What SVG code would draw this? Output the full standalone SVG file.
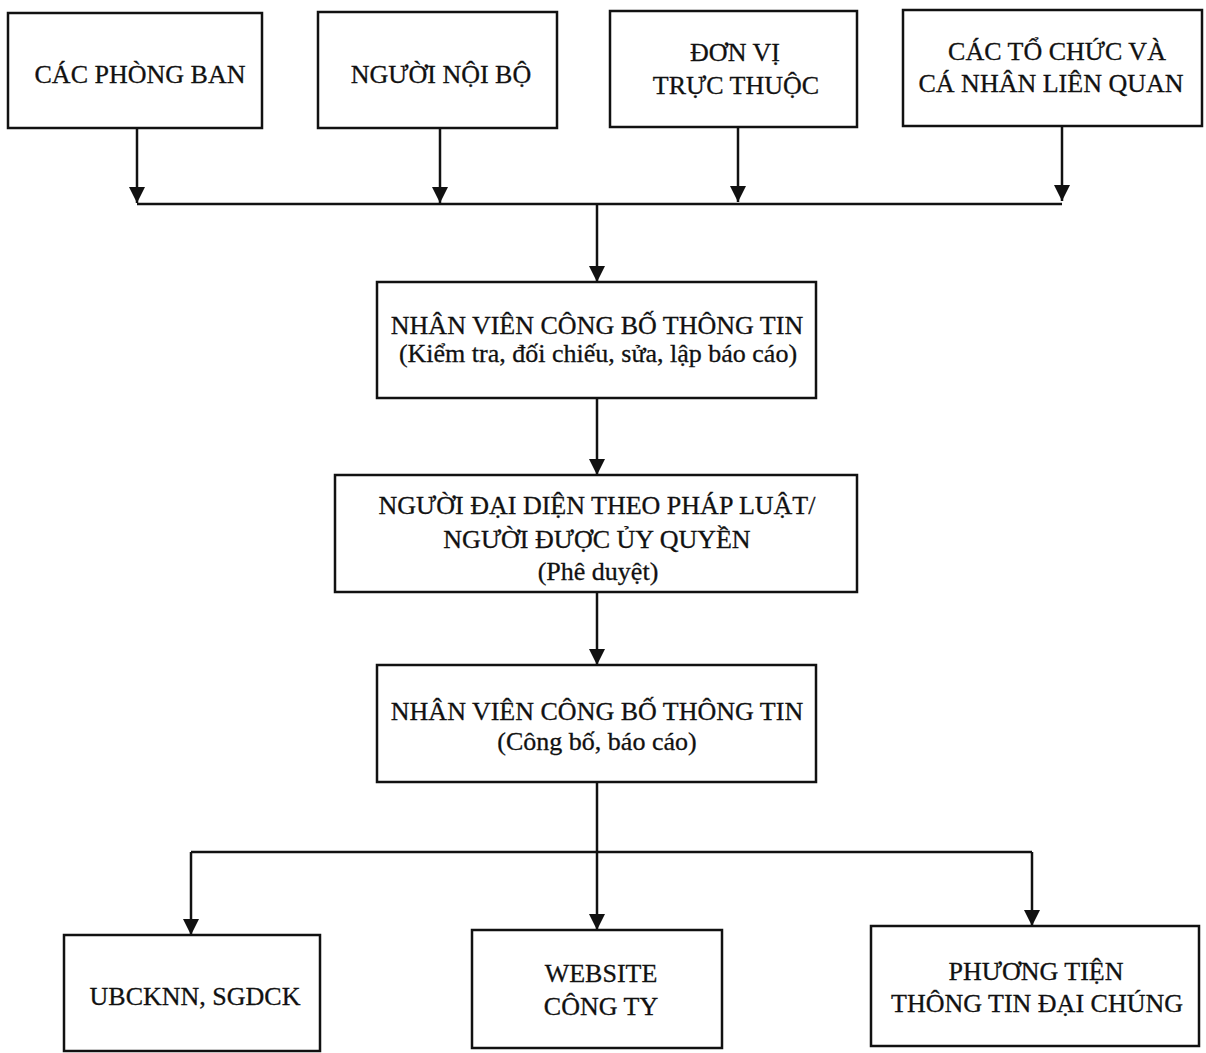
<svg xmlns="http://www.w3.org/2000/svg" width="1206" height="1053" viewBox="0 0 1206 1053">
<style>
.box{fill:#fff;stroke:#111;stroke-width:2.5}
.t{font-family:"Liberation Serif","Times New Roman",serif;font-size:26px;fill:#111;stroke:#111;stroke-width:0.3;text-anchor:middle}
.c{fill:none;stroke:#111;stroke-width:2.5}
</style>
<defs>
<marker id="ah" markerUnits="userSpaceOnUse" markerWidth="16" markerHeight="16" refX="16" refY="8" orient="auto">
<path d="M0,0 L16,8 L0,16 Z" fill="#111"/>
</marker>
</defs>
<rect width="1206" height="1053" fill="#fff"/>
<g id="connectors">
<path class="c" d="M137,128 V203" marker-end="url(#ah)"/>
<path class="c" d="M440,128 V203" marker-end="url(#ah)"/>
<path class="c" d="M738,127 V202" marker-end="url(#ah)"/>
<path class="c" d="M1062,126 V201" marker-end="url(#ah)"/>
<path class="c" d="M137,204 H1062"/>
<path class="c" d="M597,204 V282" marker-end="url(#ah)"/>
<path class="c" d="M597,398 V475" marker-end="url(#ah)"/>
<path class="c" d="M597,592 V665" marker-end="url(#ah)"/>
<path class="c" d="M597,782 V930" marker-end="url(#ah)"/>
<path class="c" d="M191,852 H1032"/>
<path class="c" d="M191,852 V935" marker-end="url(#ah)"/>
<path class="c" d="M1032,852 V926" marker-end="url(#ah)"/>
</g>
<g id="n1"><rect class="box" x="8" y="13" width="254" height="115"/><text class="t" x="140" y="83">CÁC PHÒNG BAN</text></g>
<g id="n2"><rect class="box" x="318" y="12" width="239" height="116"/><text class="t" x="441" y="83">NGƯỜI NỘI BỘ</text></g>
<g id="n3"><rect class="box" x="610" y="11" width="247" height="116"/><text class="t" x="735" y="61">ĐƠN VỊ</text><text class="t" x="736" y="94">TRỰC THUỘC</text></g>
<g id="n4"><rect class="box" x="903" y="10" width="299" height="116"/><text class="t" x="1057" y="60">CÁC TỔ CHỨC VÀ</text><text class="t" x="1051" y="92">CÁ NHÂN LIÊN QUAN</text></g>
<g id="n5"><rect class="box" x="377" y="282" width="439" height="116"/><text class="t" x="597" y="334">NHÂN VIÊN CÔNG BỐ THÔNG TIN</text><text class="t" x="598" y="362">(Kiểm tra, đối chiếu, sửa, lập báo cáo)</text></g>
<g id="n6"><rect class="box" x="335" y="475" width="522" height="117"/><text class="t" x="597" y="514">NGƯỜI ĐẠI DIỆN THEO PHÁP LUẬT/</text><text class="t" x="597" y="548">NGƯỜI ĐƯỢC ỦY QUYỀN</text><text class="t" x="598" y="580">(Phê duyệt)</text></g>
<g id="n7"><rect class="box" x="377" y="665" width="439" height="117"/><text class="t" x="597" y="720">NHÂN VIÊN CÔNG BỐ THÔNG TIN</text><text class="t" x="597" y="750">(Công bố, báo cáo)</text></g>
<g id="n8"><rect class="box" x="64" y="935" width="256" height="116"/><text class="t" x="195" y="1005">UBCKNN, SGDCK</text></g>
<g id="n9"><rect class="box" x="472" y="930" width="250" height="118"/><text class="t" x="601" y="982">WEBSITE</text><text class="t" x="601" y="1015">CÔNG TY</text></g>
<g id="n10"><rect class="box" x="871" y="926" width="328" height="120"/><text class="t" x="1036" y="980">PHƯƠNG TIỆN</text><text class="t" x="1037" y="1012">THÔNG TIN ĐẠI CHÚNG</text></g>
</svg>
